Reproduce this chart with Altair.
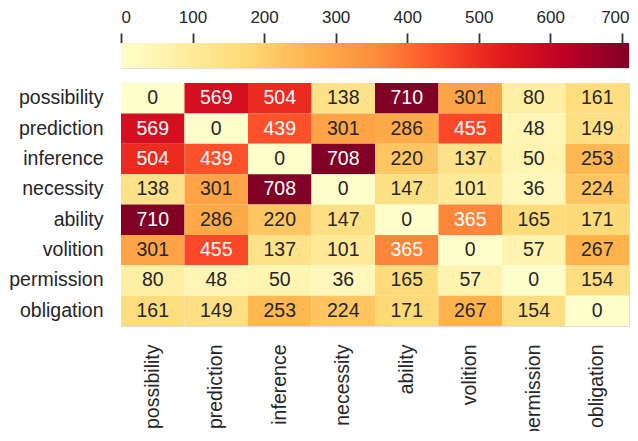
import altair as alt
import pandas as pd
import numpy as np

labels = ["possibility", "prediction", "inference", "necessity",
          "ability", "volition", "permission", "obligation"]

possibility = [0, 569, 504, 138, 710, 301, 80, 161]
prediction = [569, 0, 439, 301, 286, 455, 48, 149]
inference = [504, 439, 0, 708, 220, 137, 50, 253]
necessity = [138, 301, 708, 0, 147, 101, 36, 224]
ability = [710, 286, 220, 147, 0, 365, 165, 171]
volition = [301, 455, 137, 101, 365, 0, 57, 267]
permission = [80, 48, 50, 36, 165, 57, 0, 154]
obligation = [161, 149, 253, 224, 171, 267, 154, 0]

rows = [possibility, prediction, inference, necessity,
        ability, volition, permission, obligation]

cbar_ticks = [0, 100, 200, 300, 400, 500, 600, 700]
vmin, vmax = 0, 710

ylorrd = ["#ffffcc", "#ffeda0", "#fed976", "#feb24c", "#fd8d3c",
          "#fc4e2a", "#e31a1c", "#bd0026", "#800026"]

records = []
for rname, vals in zip(labels, rows):
    for cname, v in zip(labels, vals):
        records.append({"row": rname, "col": cname, "value": v})
df = pd.DataFrame(records)

FONT = "Liberation Sans"
TXT = "#262626"

color_scale = alt.Scale(
    domain=list(np.linspace(vmin, vmax, len(ylorrd))),
    range=ylorrd,
    interpolate="rgb",
)

base = alt.Chart(df).encode(
    x=alt.X("col:N", sort=labels,
            axis=alt.Axis(title=None, orient="bottom", labelAngle=270,
                          ticks=False, domain=False, labelPadding=18,
                          labelFontSize=19.5, labelFont=FONT,
                          labelColor=TXT)),
    y=alt.Y("row:N", sort=labels,
            axis=alt.Axis(title=None, ticks=False, domain=False,
                          labelPadding=18, labelFontSize=19.5,
                          labelFont=FONT, labelColor=TXT)),
)

rects = base.mark_rect(strokeWidth=0).encode(
    color=alt.Color("value:Q", scale=color_scale, legend=None)
)

texts = base.mark_text(fontSize=19.5, font=FONT).encode(
    text="value:Q",
    color=alt.condition(alt.datum.value > 330, alt.value("white"),
                        alt.value(TXT)),
)

heat = alt.layer(rects, texts).properties(width=508, height=243)

cbar_df = pd.DataFrame({"lo": [vmin], "hi": [vmax]})
stops = [alt.GradientStop(offset=i / (len(ylorrd) - 1), color=c)
         for i, c in enumerate(ylorrd)]
cbar = alt.Chart(cbar_df).mark_rect(
    color=alt.Gradient(gradient="linear", stops=stops,
                       x1=0, x2=1, y1=0, y2=0)
).encode(
    x=alt.X("lo:Q", scale=alt.Scale(domain=[vmin, vmax], nice=False),
            axis=alt.Axis(orient="top", values=cbar_ticks, title=None,
                          tickSize=10, tickWidth=1.8, tickColor="#333333",
                          domain=False, grid=False, labelPadding=7,
                          labelFontSize=17, labelFont=FONT,
                          labelColor=TXT,
                          labelOffset={"condition": {"test": "datum.value >= 700",
                                                     "value": -7},
                                       "value": 0})),
    x2="hi:Q",
).properties(width=508, height=25)

chart = alt.vconcat(cbar, heat, spacing=13).properties(
    padding={"left": 0, "top": -1, "right": 0, "bottom": -8}
).configure_view(stroke=None).configure(background="white")

chart.save("out.html", embed_options={"renderer": "svg", "actions": False})
